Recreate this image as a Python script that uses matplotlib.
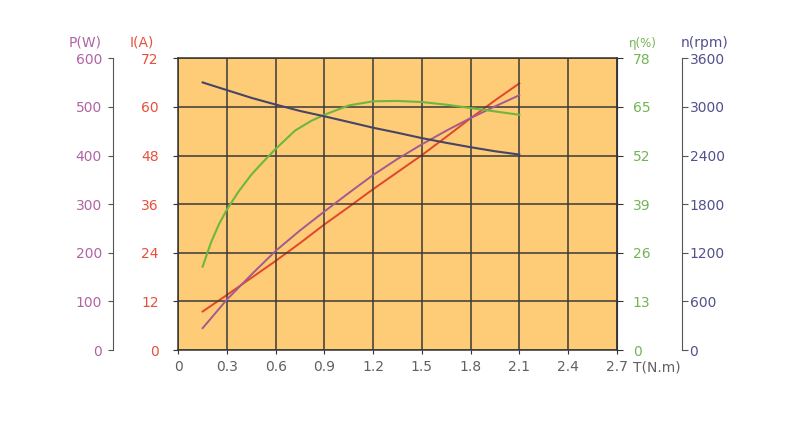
import numpy as np
import matplotlib.pyplot as plt

# torque (N.m)
torque = [0.15, 0.3, 0.45, 0.6, 0.75, 0.9, 1.05, 1.2, 1.35, 1.5, 1.65, 1.8, 1.95, 2.1]
# output power (W)
power = [45, 104, 155, 204, 246, 285, 323, 360, 393, 423, 451, 477, 501, 524]
# current (A)
current = [9.5, 13.6, 17.8, 22.0, 26.4, 31.0, 35.3, 39.7, 43.9, 48.1, 52.6, 57.2, 61.6, 65.8]
# speed (rpm)
speed = [3302, 3207, 3112, 3029, 2950, 2884, 2814, 2743, 2681, 2615, 2557, 2503, 2453, 2412]
# efficiency (%) - read more densely where it bends
torque_eff = [0.15, 0.2, 0.25, 0.3, 0.37, 0.45, 0.52, 0.6, 0.72, 0.82, 0.9,
              1.05, 1.2, 1.35, 1.5, 1.65, 1.8, 1.95, 2.1]
eff = [22.3, 28.6, 33.6, 37.6, 42.3, 46.9, 50.2, 53.8, 58.7, 61.3, 62.9,
       65.4, 66.5, 66.6, 66.3, 65.6, 64.7, 63.8, 62.9]

x_ticks = [0, 0.3, 0.6, 0.9, 1.2, 1.5, 1.8, 2.1, 2.4, 2.7]
x_labels = ['0', '0.3', '0.6', '0.9', '1.2', '1.5', '1.8', '2.1', '2.4', '2.7']
p_ticks = [0, 100, 200, 300, 400, 500, 600]
i_ticks = [0, 12, 24, 36, 48, 60, 72]
e_ticks = [0, 13, 26, 39, 52, 65, 78]
n_ticks = [0, 600, 1200, 1800, 2400, 3000, 3600]

c_p = '#b064a4'
c_i = '#e8503a'
c_e = '#72b454'
c_n = '#52508e'
c_txt = '#606060'

plt.rcParams['font.family'] = ['DejaVu Sans']
plt.rcParams['font.size'] = 10

fig = plt.figure(figsize=(8, 4.23), dpi=100)
ax = fig.add_axes([178.3 / 800, 1 - 350 / 423, (616.7 - 178.3) / 800, (350 - 58.3) / 423])
ax.set_facecolor('#fecb77')

# current axis = host (left edge of plot)
ax.set_xlim(0, 2.7)
ax.set_ylim(0, 72)
ax.set_xticks(x_ticks)
ax.set_xticklabels(x_labels, color=c_txt)
ax.set_yticks(i_ticks)
ax.set_yticklabels([str(v) for v in i_ticks], color=c_i)
ax.tick_params(axis='y', direction='out', length=3.6, pad=10.5, color='#333333')
ax.tick_params(axis='x', direction='out', length=3, pad=4, color='#333333')
ax.grid(True, color='#3a3a3a', lw=1.1)
ax.set_axisbelow(False)
for s in ax.spines.values():
    s.set_color('#333333')
    s.set_linewidth(1.1)

# power axis, offset to the left
ax_p = ax.twinx()
ax_p.set_ylim(0, 600)
ax_p.yaxis.set_ticks_position('left')
ax_p.yaxis.set_label_position('left')
ax_p.spines['left'].set_visible(True)
ax_p.spines['left'].set_position(('outward', 47))
ax_p.spines['left'].set_color('#555555')
for k in ['right', 'top', 'bottom']:
    ax_p.spines[k].set_visible(False)
ax_p.set_yticks(p_ticks)
ax_p.set_yticklabels([str(v) for v in p_ticks], color=c_p)
ax_p.tick_params(axis='y', direction='out', length=3.6, pad=4.3, color='#555555')

# efficiency axis on the right edge
ax_e = ax.twinx()
ax_e.set_ylim(0, 78)
for k in ['left', 'top', 'bottom']:
    ax_e.spines[k].set_visible(False)
ax_e.spines['right'].set_color('#333333')
ax_e.set_yticks(e_ticks)
ax_e.set_yticklabels([str(v) for v in e_ticks], color=c_e)
ax_e.tick_params(axis='y', direction='out', length=4, pad=7.5, color='#333333')

# speed axis, offset to the right
ax_n = ax.twinx()
ax_n.set_ylim(0, 3600)
ax_n.spines['right'].set_position(('outward', 47))
ax_n.spines['right'].set_color('#555555')
for k in ['left', 'top', 'bottom']:
    ax_n.spines[k].set_visible(False)
ax_n.set_yticks(n_ticks)
ax_n.set_yticklabels([str(v) for v in n_ticks], color=c_n)
ax_n.tick_params(axis='y', direction='out', length=4, pad=1.5, color='#555555')

# curves
ax_n.plot(torque, speed, color='#474466', lw=1.5)
ax_e.plot(torque_eff, eff, color='#6cb83e', lw=1.5)
ax.plot(torque, current, color='#e2452c', lw=1.4)
ax_p.plot(torque, power, color='#a45a8e', lw=1.4)

# axis titles
fig.text(85 / 800, 1 - 43 / 423, 'P(W)', color=c_p, ha='center', va='center')
fig.text(142 / 800, 1 - 43 / 423, 'I(A)', color=c_i, ha='center', va='center')
fig.text(643 / 800, 1 - 43 / 423, 'η(%)', color=c_e, ha='center', va='center', fontsize=8.5)
fig.text(705 / 800, 1 - 43 / 423, 'n(rpm)', color=c_n, ha='center', va='center')
fig.text(633 / 800, 1 - 367 / 423, 'T(N.m)', color=c_txt, ha='left', va='center')

fig.savefig('out.png', dpi=100, facecolor='white')
